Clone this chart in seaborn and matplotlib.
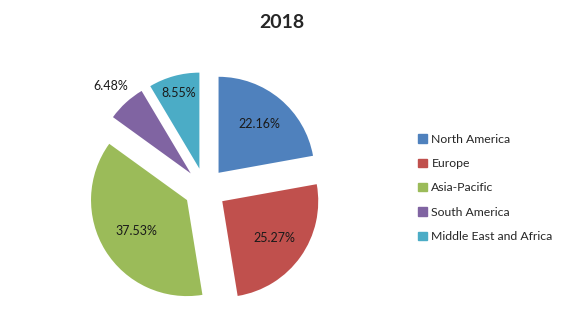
import numpy as np
import matplotlib
matplotlib.use("Agg")
import matplotlib.pyplot as plt
import seaborn as sns

regions = ["North America", "Europe", "Asia-Pacific", "South America", "Middle East and Africa"]
shares = [22.16, 25.27, 37.53, 6.48, 8.55]
title = "2018"

sns.set_theme(style="white")
plt.rcParams['font.family'] = ['Lato', 'DejaVu Sans']
palette = sns.color_palette(["#4F81BD", "#C0504D", "#9BBB59", "#8064A2", "#4BACC6"])

W, H = 563, 335
fig = plt.figure(figsize=(W / 100, H / 100), dpi=100)
R = 96.0
span = 1.4
cx, cy = 205, 146
ax = fig.add_axes([(cx - R * span) / W, (cy - R * span) / H, 2 * R * span / W, 2 * R * span / H])

wedges, texts, autotexts = ax.pie(
    shares, colors=palette, startangle=90, counterclock=False,
    explode=[0.22] * len(shares), autopct="%.2f%%", pctdistance=0.68,
    wedgeprops=dict(linewidth=0), textprops=dict(fontsize=9, color="#1a1a1a"))

# label distances (fraction of radius) per slice
dists = [0.66, 0.66, 0.62, 1.24, 0.82]
for w, t, d in zip(wedges, autotexts, dists):
    ang = np.deg2rad((w.theta1 + w.theta2) / 2)
    c = w.center
    t.set_position((c[0] + d * np.cos(ang), c[1] + d * np.sin(ang)))

ax.set_xlim(-span, span)
ax.set_ylim(-span, span)
ax.set_aspect("equal")
ax.axis("off")

fig.text(282 / W, 1 - 22 / H, title, ha="center", va="center", fontsize=14, fontweight="bold")

handles = [plt.Rectangle((0, 0), 1, 1, color=c) for c in palette]
fig.legend(handles, regions, loc="center left", bbox_to_anchor=(418 / W, 1 - 188 / H),
           frameon=False, fontsize=8.8, handlelength=0.7, handleheight=0.7,
           handletextpad=0.4, labelspacing=1.1, borderaxespad=0, borderpad=0)

fig.savefig("out.png", dpi=100, facecolor="white")
